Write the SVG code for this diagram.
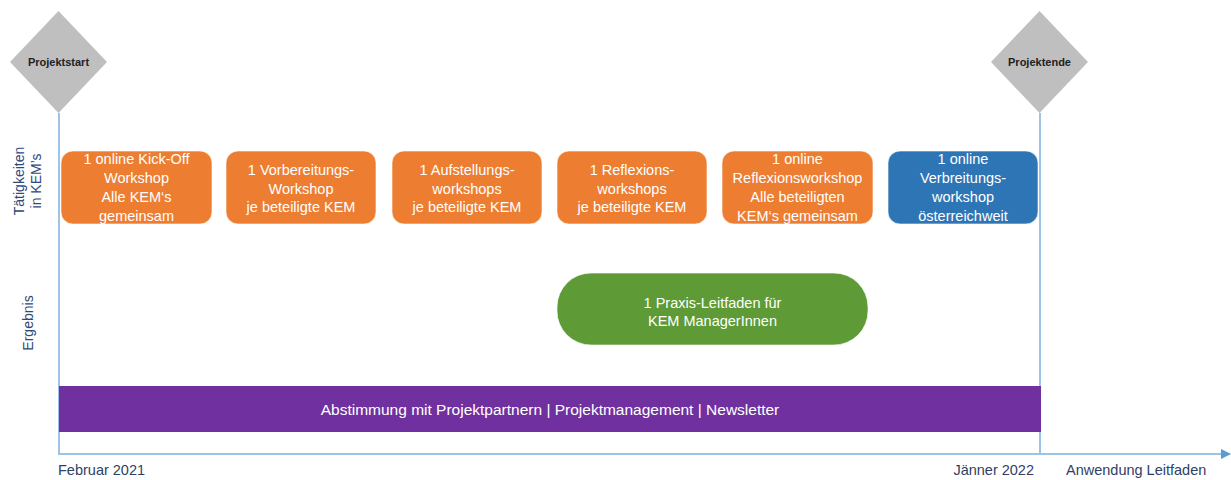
<svg xmlns="http://www.w3.org/2000/svg" width="1231" height="480" viewBox="0 0 1231 480">
<style>
.t{font-family:"Liberation Sans",Arial,sans-serif;}
.box{stroke:#ffffff;stroke-opacity:0.6;stroke-width:1}
.or{fill:#ED7D31}
.bl{fill:#2E75B6}
.gr{fill:#5E9B36}
.wt{fill:#ffffff;font-size:14.5px;text-anchor:middle}
.ax{stroke:#9DC3E6;stroke-width:2;fill:none}
.dia{fill:#BFBFBF}
.dt{font-size:11px;font-weight:bold;fill:#222;text-anchor:middle}
.lab{font-size:14px;fill:#2F4A7A;text-anchor:middle}
.bot{font-size:14.5px;fill:#2F3F66}
</style>
<defs>
<marker id="arr" markerWidth="10" markerHeight="10" refX="9" refY="5" orient="auto" markerUnits="userSpaceOnUse">
<path d="M0,0 L10,5 L0,10 Z" fill="#5B9BD5"/>
</marker>
</defs>
<g id="connectors">
<line class="ax" x1="59" y1="113" x2="59" y2="455"/>
<line class="ax" x1="1040" y1="113" x2="1040" y2="455"/>
<line x1="59" y1="454" x2="1230" y2="454" stroke="#9DC3E6" stroke-width="2" marker-end="url(#arr)"/>
</g>
<g id="projektstart">
<polygon class="dia" points="58.5,11 107,62 58.5,113 10,62"/>
<text class="t dt" x="58.5" y="66">Projektstart</text>
</g>
<g id="projektende">
<polygon class="dia" points="1039.5,11 1088,62 1039.5,113 991,62"/>
<text class="t dt" x="1039.5" y="66">Projektende</text>
</g>
<g id="label-taetigkeiten">
<text class="t lab" transform="translate(24,181) rotate(-90)">Tätigkeiten</text>
<text class="t lab" transform="translate(41,181) rotate(-90)">in KEM’s</text>
</g>
<g id="label-ergebnis">
<text class="t lab" transform="translate(33,323) rotate(-90)">Ergebnis</text>
</g>
<g id="box1">
<rect class="box or" x="61" y="151" width="151" height="73" rx="12"/>
<text class="t wt"><tspan x="136.5" y="164">1 online Kick-Off</tspan><tspan x="136.5" y="183">Workshop</tspan><tspan x="136.5" y="202">Alle KEM‘s</tspan><tspan x="136.5" y="221">gemeinsam</tspan></text>
</g>
<g id="box2">
<rect class="box or" x="226" y="151" width="150" height="73" rx="12"/>
<text class="t wt"><tspan x="301" y="175">1 Vorbereitungs-</tspan><tspan x="301" y="194">Workshop</tspan><tspan x="301" y="212">je beteiligte KEM</tspan></text>
</g>
<g id="box3">
<rect class="box or" x="392" y="151" width="150" height="73" rx="12"/>
<text class="t wt"><tspan x="467" y="175">1 Aufstellungs-</tspan><tspan x="467" y="194">workshops</tspan><tspan x="467" y="212">je beteiligte KEM</tspan></text>
</g>
<g id="box4">
<rect class="box or" x="557" y="151" width="150" height="73" rx="12"/>
<text class="t wt"><tspan x="632" y="175">1 Reflexions-</tspan><tspan x="632" y="194">workshops</tspan><tspan x="632" y="212">je beteiligte KEM</tspan></text>
</g>
<g id="box5">
<rect class="box or" x="722" y="151" width="151" height="73" rx="12"/>
<text class="t wt"><tspan x="797.5" y="164">1 online</tspan><tspan x="797.5" y="183">Reflexionsworkshop</tspan><tspan x="797.5" y="202">Alle beteiligten</tspan><tspan x="797.5" y="221">KEM‘s gemeinsam</tspan></text>
</g>
<g id="box6">
<rect class="box bl" x="888" y="151" width="150" height="73" rx="12"/>
<text class="t wt"><tspan x="963" y="164">1 online</tspan><tspan x="963" y="183">Verbreitungs-</tspan><tspan x="963" y="202">workshop</tspan><tspan x="963" y="221">österreichweit</tspan></text>
</g>
<g id="leitfaden">
<rect class="box gr" x="557" y="273" width="311" height="72" rx="34"/>
<text class="t wt"><tspan x="712.5" y="308">1 Praxis-Leitfaden für</tspan><tspan x="712.5" y="326">KEM ManagerInnen</tspan></text>
</g>
<g id="abstimmung">
<rect x="59" y="386" width="982" height="46" fill="#7030A0"/>
<text class="t wt" x="550" y="415" style="font-size:15.5px">Abstimmung mit Projektpartnern | Projektmanagement | Newsletter</text>
</g>
<g id="timeline-labels">
<text class="t bot" x="58" y="475">Februar 2021</text>
<text class="t bot" x="1034" y="475" text-anchor="end">Jänner 2022</text>
<text class="t bot" x="1066" y="475">Anwendung Leitfaden</text>
</g>
</svg>
